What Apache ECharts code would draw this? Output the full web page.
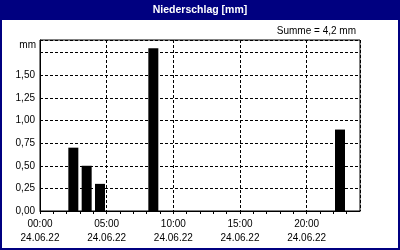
<!DOCTYPE html>
<html>
<head>
<meta charset="utf-8">
<script src="https://cdn.jsdelivr.net/npm/echarts@6/dist/echarts.min.js"></script>
<style>
html,body{margin:0;padding:0;background:#fff;}
#chart{width:400px;height:250px;}
</style>
</head>
<body>
<div id="chart"></div>
<script>
// Data
const rainHours = ['02:00', '03:00', '04:00', '08:00', '22:00']; // start of each hourly interval
const rainValues = [0.7, 0.5, 0.3, 1.8, 0.9];                    // mm
const dateLabel = '24.06.22';
const titleText = 'Niederschlag [mm]';
const sumText = 'Summe = 4,2 mm';
const yUnit = 'mm';

const FONT = "'Liberation Sans', Arial, sans-serif";
const NAVY = '#000080';

const barData = rainHours.map((h, i) => [parseInt(h, 10) + 0.5, rainValues[i]]);

const chart = echarts.init(document.getElementById('chart'), null, {renderer: 'canvas'});
chart.setOption({
  animation: false,
  backgroundColor: '#fff',
  textStyle: {fontFamily: FONT},
  graphic: [
    {type: 'rect', shape: {x: 0, y: 0, width: 400, height: 20}, style: {fill: NAVY}, z: 10},
    {type: 'rect', shape: {x: 1, y: 1, width: 398, height: 248}, style: {fill: null, stroke: NAVY, lineWidth: 2}, z: 10},
    {type: 'text', x: 200, y: 10, z: 11,
      style: {text: titleText, fill: '#fff', font: "bold 10.5px " + FONT, align: 'center', verticalAlign: 'middle'}},
    {type: 'text', x: 356, y: 31, z: 11,
      style: {text: sumText, fill: '#000', font: "10px " + FONT, align: 'right', verticalAlign: 'middle'}}
  ],
  grid: {left: 40, right: 40, top: 40, bottom: 39, show: true, borderColor: '#000', borderWidth: 1, backgroundColor: 'transparent'},
  xAxis: [
    {
      type: 'value', min: 0, max: 24, interval: 1, position: 'bottom',
      axisLine: {show: true, lineStyle: {color: '#000', width: 1}},
      axisTick: {show: true, length: 3, lineStyle: {color: '#000'}},
      splitLine: {show: false},
      axisLabel: {
        show: true, margin: 6, color: '#000', fontSize: 10, fontFamily: FONT, lineHeight: 14,
        showMaxLabel: false,
        formatter: v => (v % 5 === 0 && v < 24) ? (String(v).padStart(2, '0') + ':00\n' + dateLabel) : ''
      }
    },
    {
      type: 'value', min: 0, max: 24, interval: 5, position: 'top',
      axisLine: {show: false}, axisTick: {show: false}, axisLabel: {show: false},
      splitLine: {show: true, lineStyle: {color: '#000', width: 1, type: [3, 2]}}
    }
  ],
  yAxis: {
    type: 'value', min: 0, max: 1.89, interval: 0.25,
    name: yUnit, nameLocation: 'end', nameGap: -5,
    nameTextStyle: {color: '#000', fontSize: 10, fontFamily: FONT, align: 'right', verticalAlign: 'middle', padding: [0, 4, 0, 0]},
    axisLine: {show: true, lineStyle: {color: '#000', width: 1}},
    axisTick: {show: false},
    axisLabel: {
      margin: 5, color: '#000', fontSize: 10, fontFamily: FONT,
      showMaxLabel: false,
      formatter: v => v <= 1.5 + 1e-9 ? v.toFixed(2).replace('.', ',') : ''
    },
    splitLine: {show: true, lineStyle: {color: '#000', width: 1, type: [3, 2]}}
  },
  series: [{
    type: 'bar', xAxisIndex: 0, data: barData, barWidth: 10,
    itemStyle: {color: '#000'}, z: 5
  }]
});
</script>
</body>
</html>
